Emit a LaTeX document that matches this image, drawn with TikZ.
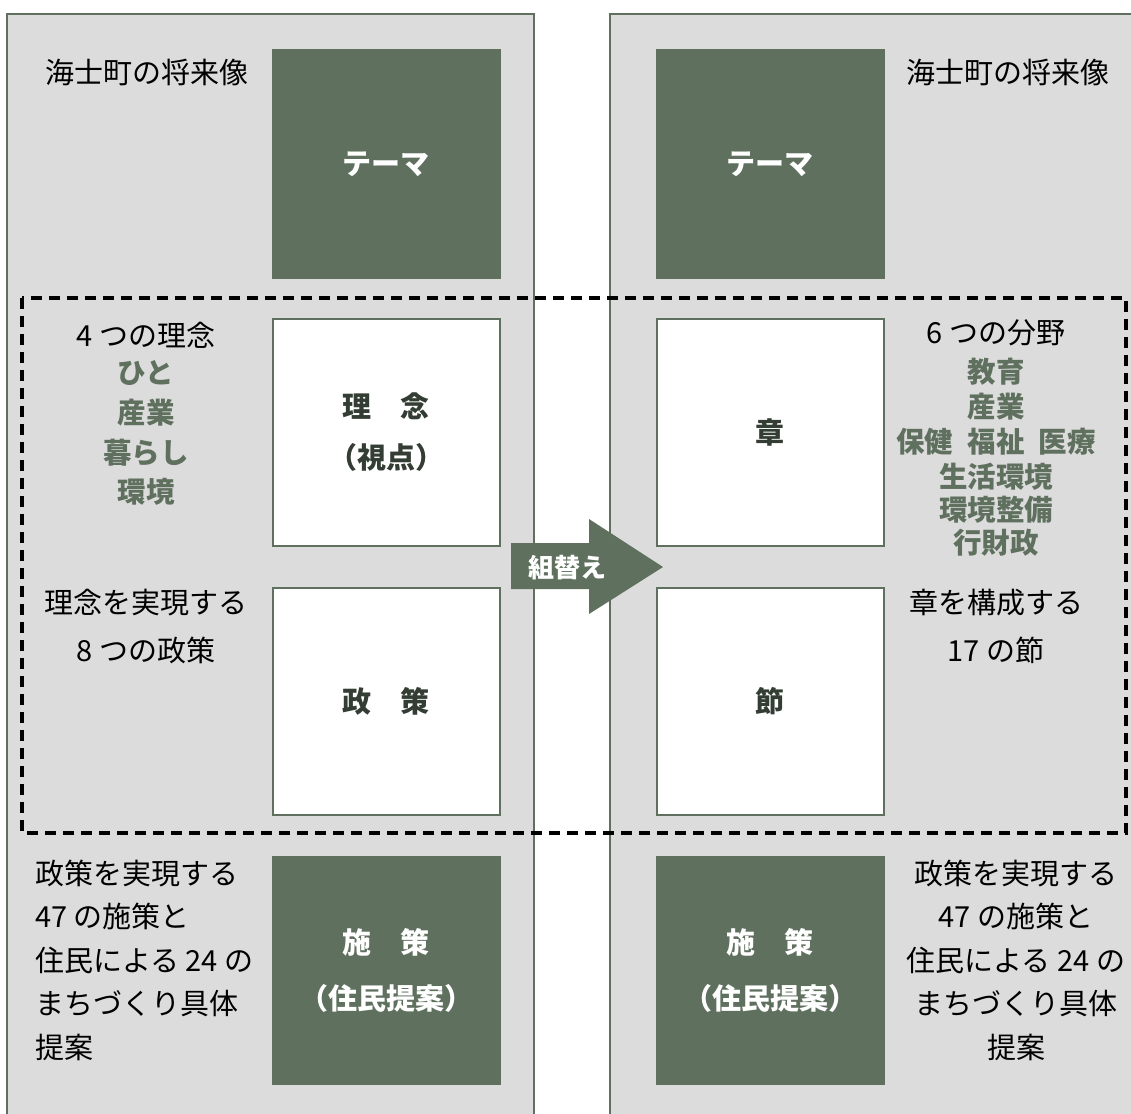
\documentclass[tikz,border=0pt]{standalone}
\usepackage{fontspec}
\setmainfont{Noto Sans CJK JP}
\definecolor{dgreen}{HTML}{5F705F}
\definecolor{pgray}{HTML}{DCDCDC}
\definecolor{dtext}{HTML}{333D33}
\begin{document}
\begin{tikzpicture}[x=1pt,y=-1pt,
  panel/.style={fill=pgray,draw=dgreen,line width=2pt},
  darkbox/.style={fill=dgreen,draw=dgreen,line width=1pt,minimum width=228pt,minimum height=228pt,inner sep=0pt,text=white,font=\fontsize{29}{56}\selectfont\bfseries,align=center},
  whitebox/.style={fill=white,draw=dgreen,line width=2pt,minimum width=227pt,minimum height=227pt,inner sep=0pt,text=dtext,font=\fontsize{29}{51}\selectfont\bfseries,align=center},
  lbl/.style={inner sep=0pt,font=\fontsize{29}{43.5}\selectfont,text=black},
  glbl/.style={inner sep=0pt,font=\fontsize{28.5}{28.5}\selectfont\bfseries,text=dgreen}]
\useasboundingbox (0,0) rectangle (1131,1113);
\clip (0,0) rectangle (1131,1113);
% panels
\path[panel] (7,14) rectangle (534,1130);
\path[panel] (610,14) rectangle (1145,1130);
% boxes
\node[darkbox] (tl) at (386,164) {テーマ};
\node[darkbox] (tr) at (770,164) {テーマ};
\node[whitebox] (rinen) at (386,432.5) {理\quad 念\\（視点）};
\node[whitebox] (seisaku) at (386,701) {政\quad 策};
\node[whitebox] (sho) at (770,432.5) {章};
\node[whitebox] (setsu) at (770,701) {節};
\node[darkbox] (shisakuL) at (386,970.5) {施\quad 策\\（住民提案）};
\node[darkbox] (shisakuR) at (770,970.5) {施\quad 策\\（住民提案）};
% dashed frame
\draw[black,line width=3.2pt,dash pattern=on 11pt off 7pt] (22,298) rectangle (1126,833);
% arrow
\path[fill=dgreen] (511,543) -- (589,543) -- (589,519) -- (663,567) -- (589,614) -- (589,589) -- (511,589) -- cycle;
\node[inner sep=0pt,text=white,font=\fontsize{26}{26}\selectfont\bfseries] (kumikae) at (567,568) {組替え};
% left texts
\node[lbl,anchor=west] (shoraiL) at (45,72) {海士町の将来像};
\node[lbl,anchor=east] (shoraiR) at (1110,72) {海士町の将来像};
\node[lbl] (yottsu) at (146,335) {4 つの理念};
\node[glbl] (hito) at (146,373) {ひと};
\node[glbl] (sangyoL) at (146,413) {産業};
\node[glbl] (kurashi) at (146,453) {暮らし};
\node[glbl] (kankyo) at (146,492) {環境};
\node[lbl] (rinenj) at (146,603) {理念を実現する};
\node[lbl] (yatsu) at (146,650) {8 つの政策};
\node[lbl,align=left,anchor=west] (botL) at (35,960) {政策を実現する\\47 の施策と\\住民による 24 の\\まちづくり具体\\提案};
% right texts
\node[lbl] (muttsu) at (996,333) {6 つの分野};
\node[glbl] (kyoiku) at (996,372) {教育};
\node[glbl] (sangyoR) at (996,407) {産業};
\node[glbl] (hoken) at (996,442) {保健\hspace{0.5em}福祉\hspace{0.5em}医療};
\node[glbl] (seikatsu) at (996,477) {生活環境};
\node[glbl] (seibi) at (996,510) {環境整備};
\node[glbl] (zaisei) at (996,543) {行財政};
\node[lbl] (koseis) at (996,603) {章を構成する};
\node[lbl] (setsu17) at (996,650) {17 の節};
\node[lbl,align=center] (botR) at (1016,960) {政策を実現する\\47 の施策と\\住民による 24 の\\まちづくり具体\\提案};
\end{tikzpicture}
\end{document}
